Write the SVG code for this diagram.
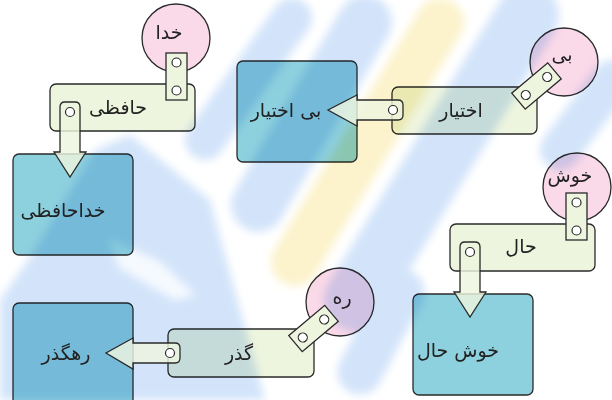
<svg xmlns="http://www.w3.org/2000/svg" width="612" height="400" viewBox="0 0 612 400">
<style>
text{font-family:"DejaVu Sans",sans-serif;font-size:19px;fill:#222;text-anchor:middle}
.res{fill:#8dd0de;stroke:#2a2a2a;stroke-width:1.3;mix-blend-mode:multiply}
.word{fill:#eef5df;stroke:#2a2a2a;stroke-width:1.3;mix-blend-mode:multiply}
.pre{fill:#fad9e8;stroke:#2a2a2a;stroke-width:1.3;mix-blend-mode:multiply}
.bar{fill:#eef5df;stroke:#2a2a2a;stroke-width:1.3}
.arr{fill:#eef5df;fill-opacity:0.82;stroke:#2a2a2a;stroke-width:1.3}
.hole{fill:#fff;stroke:#2a2a2a;stroke-width:1.2}
.bb{stroke:#d3e4fa;fill:none;stroke-linecap:round}
.by{stroke:#fcf3cc;fill:none;stroke-linecap:round}
</style>
<defs>
<filter id="soft" x="-10%" y="-10%" width="120%" height="120%"><feGaussianBlur stdDeviation="4"/></filter>
</defs>
<rect width="612" height="400" fill="#fff"/>
<g id="background" filter="url(#soft)">
<polygon points="0,300 35,250 95,150 130,135 210,200 265,400 0,400" fill="#d3e4fa"/>
<line class="bb" x1="205" y1="140" x2="292" y2="18" stroke-width="40"/>
<line class="bb" x1="258" y1="205" x2="365" y2="22" stroke-width="54"/>
<line class="by" x1="295" y1="262" x2="440" y2="22" stroke-width="48"/>
<line class="bb" x1="355" y1="300" x2="528" y2="15" stroke-width="62"/>
<line class="bb" x1="360" y1="372" x2="402" y2="292" stroke-width="45"/>
<line class="bb" x1="560" y1="150" x2="612" y2="80" stroke-width="40"/>
<polygon points="108,238 160,262 195,295 175,300 120,268" fill="#fff" opacity="0.8"/>
</g>
<g id="node-khodahafezi"><rect class="res" x="13" y="154" width="120" height="101" rx="6"/><text x="63" y="217">خداحافظی</text></g>
<g id="node-bi-ekhtiar"><rect class="res" x="237" y="61" width="120" height="101" rx="6"/><text x="286" y="117">بی اختیار</text></g>
<g id="node-khoshhal"><rect class="res" x="413" y="294" width="120" height="101" rx="6"/><text x="458" y="357">خوش حال</text></g>
<g id="node-rahgozar"><rect class="res" x="13" y="303" width="120" height="110" rx="6"/><text x="66" y="360">رهگذر</text></g>
<g id="node-hafezi"><rect class="word" x="50" y="84" width="145" height="47" rx="6"/><text x="118" y="114">حافظی</text></g>
<g id="node-ekhtiar"><rect class="word" x="392" y="87" width="145" height="47" rx="6"/><text x="461" y="117">اختیار</text></g>
<g id="node-hal"><rect class="word" x="450" y="224" width="145" height="47" rx="6"/><text x="521" y="253">حال</text></g>
<g id="node-gozar"><rect class="word" x="168" y="329" width="146" height="48" rx="6"/><text x="239" y="360">گذر</text></g>
<g id="node-khoda"><circle class="pre" cx="176" cy="38" r="34"/><text x="169" y="39">خدا</text></g>
<g id="node-bi"><circle class="pre" cx="564" cy="62" r="34"/><text x="562" y="61">بی</text></g>
<g id="node-khosh"><circle class="pre" cx="577" cy="187" r="34"/><text x="570" y="182">خوش</text></g>
<g id="node-rah"><circle class="pre" cx="340" cy="302" r="34"/><text x="342" y="304">ره</text></g>
<g id="connectors">
<path class="arr" d="M60,107 Q60,102 65,102 L75,102 Q80,102 80,107 L80,152 L86,152 L70,177 L54,152 L60,152 Z"/>
<circle class="hole" cx="70" cy="112" r="4.5"/>
<path class="arr" d="M460,247 Q460,242 465,242 L475,242 Q480,242 480,247 L480,292 L486,292 L470,317 L454,292 L460,292 Z"/>
<circle class="hole" cx="470" cy="252" r="4.5"/>
<path class="arr" d="M398,100 Q403,100 403,105 L403,115 Q403,120 398,120 L357,120 L357,126 L328,110 L357,95 L357,100 Z"/>
<circle class="hole" cx="393" cy="110" r="4.5"/>
<path class="arr" d="M175,343 Q180,343 180,348 L180,358 Q180,363 175,363 L133,363 L133,369 L106,353 L133,338 L133,343 Z"/>
<circle class="hole" cx="170" cy="353" r="4.5"/>
<g transform="translate(176.5,76.5)"><rect class="bar" x="-10.5" y="-23.5" width="21" height="47"/><circle class="hole" cx="0" cy="-14" r="4.5"/><circle class="hole" cx="0" cy="14" r="4.5"/></g>
<g transform="translate(576.5,216.5)"><rect class="bar" x="-10.5" y="-23.5" width="21" height="47"/><circle class="hole" cx="0" cy="-14" r="4.5"/><circle class="hole" cx="0" cy="14" r="4.5"/></g>
<g transform="translate(536.5,86) rotate(-40)"><rect class="bar" x="-23.5" y="-10.5" width="47" height="21"/><circle class="hole" cx="-14" cy="0" r="4.5"/><circle class="hole" cx="14" cy="0" r="4.5"/></g>
<g transform="translate(313.5,328.5) rotate(-40)"><rect class="bar" x="-23.5" y="-10.5" width="47" height="21"/><circle class="hole" cx="-14" cy="0" r="4.5"/><circle class="hole" cx="14" cy="0" r="4.5"/></g>
</g>
</svg>
